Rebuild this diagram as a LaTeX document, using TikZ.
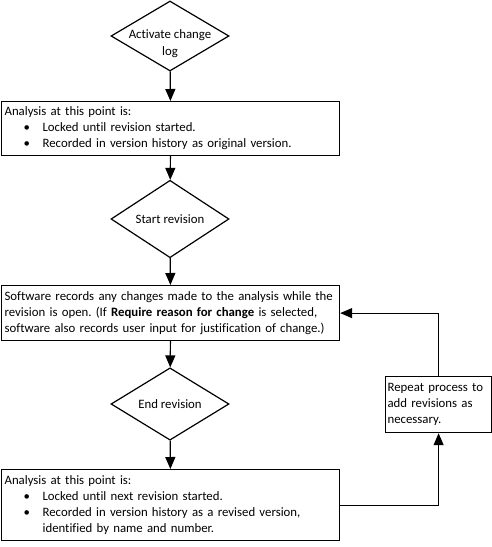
\documentclass[tikz,border=0pt]{standalone}
\usepackage{fontspec}
\setmainfont[Ligatures=NoCommon]{Carlito}
\usetikzlibrary{shapes.geometric,arrows.meta}
\frenchspacing
\begin{document}
\begin{tikzpicture}[x=1pt,y=-1pt,
  every node/.style={font=\fontsize{12.8}{16}\selectfont},
  dia/.style={draw,diamond,line width=1.2pt,minimum width=118pt,minimum height=70pt,inner sep=0pt,align=center},
  bigbox/.style={draw,rectangle,line width=1.2pt,anchor=north west,minimum width=338pt,text width=332pt,align=left,inner xsep=3pt,inner ysep=3pt},
  smallbox/.style={draw,rectangle,line width=1.2pt,anchor=north west,minimum width=106pt,minimum height=56pt,text width=102pt,align=left,inner xsep=2pt,inner ysep=2pt},
  conn/.style={line width=1.2pt,-{Triangle[width=10pt,length=12pt]}}]
\useasboundingbox (0,0) rectangle (492,547);
\newcommand{\blt}{\hspace*{19pt}\makebox[19pt][l]{\textbullet}}
\node[dia] (d1) at (170,36) {};
\node[align=center,inner sep=0pt] (t1) at ([yshift=-8pt]d1.center) {Activate change\\[1pt]log};
\node[bigbox,minimum height=54pt] (b1) at (1,101) {Analysis at this point is:\\
\blt Locked until revision started.\\
\blt Recorded in version history as original version.};
\node[dia] (d2) at (170,219) {Start revision};
\node[bigbox,minimum height=55pt] (b2) at (1,285) {Software records any changes made to the analysis while the\\
revision is open. (If \textbf{Require reason for change} is selected,\\
software also records user input for justification of change.)};
\node[dia] (d3) at (170,404) {End revision};
\node[bigbox,minimum height=71pt] (b3) at (1,469) {Analysis at this point is:\\
\blt Locked until next revision started.\\
\blt Recorded in version history as a revised version,\\
\hspace*{38pt}identified by name and number.};
\node[smallbox] (b4) at (385,376) {Repeat process to\\add revisions as\\necessary.};
\draw[conn] (d1) -- (b1);
\draw[conn] (b1) -- (d2);
\draw[conn] (d2) -- (b2);
\draw[conn] (b2) -- (d3);
\draw[conn] (d3) -- (b3);
\draw[conn] (b3.east) -| (b4.south);
\draw[conn] (b4.north) |- (b2.east);
\end{tikzpicture}
\end{document}
